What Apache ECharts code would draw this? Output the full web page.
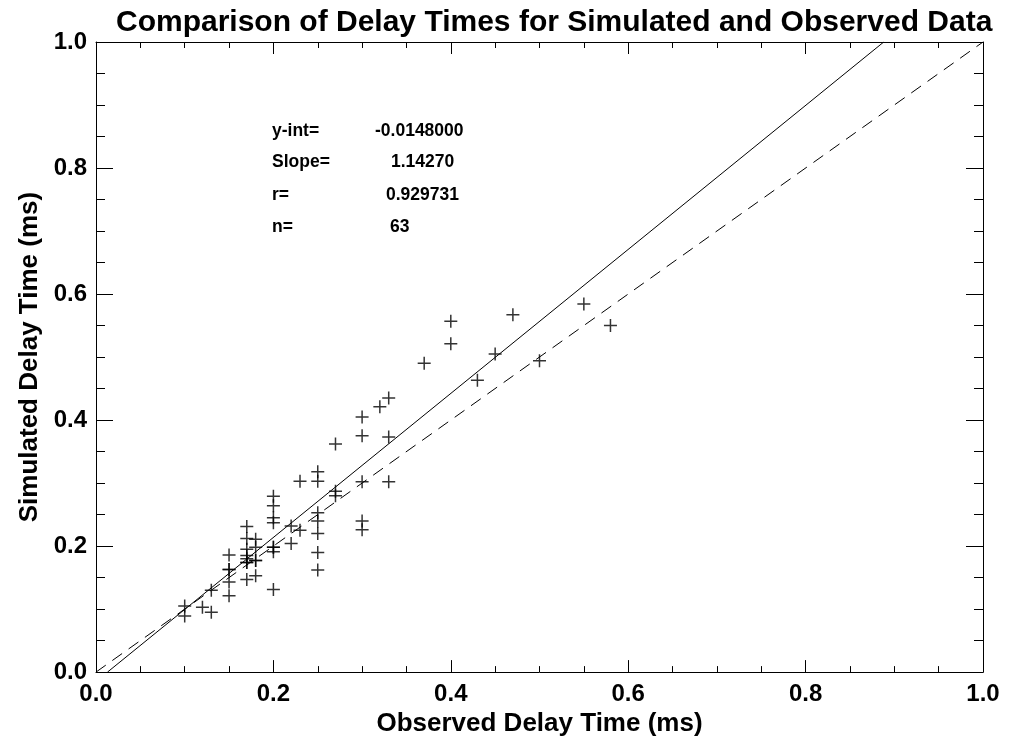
<!DOCTYPE html>
<html>
<head>
<meta charset="utf-8">
<script src="https://cdn.jsdelivr.net/npm/echarts/dist/echarts.min.js"></script>
<style>
html,body{margin:0;padding:0;background:#fff;}
#c{width:1010px;height:742px;}
</style>
</head>
<body>
<div id="c"></div>
<script>
// Observed (x) and simulated (y) delay times, ms
var obsX = [
  0.10,0.10,
  0.12,
  0.13,0.13,
  0.15,0.15,0.15,0.15,0.15,
  0.17,0.17,0.17,0.17,0.17,0.17,0.17,0.17,
  0.18,0.18,0.18,0.18,0.18,
  0.20,0.20,0.20,0.20,0.20,0.20,0.20,0.20,
  0.22,0.22,
  0.23,0.23,
  0.25,0.25,0.25,0.25,0.25,0.25,0.25,
  0.27,0.27,0.27,
  0.30,0.30,0.30,0.30,0.30,
  0.32,
  0.33,0.33,0.33,
  0.37,
  0.40,0.40,
  0.43,
  0.45,
  0.47,
  0.50,
  0.55,
  0.58
];
var simY = [
  0.105,0.089,
  0.103,
  0.130,0.095,
  0.186,0.163,0.163,0.143,0.121,
  0.231,0.212,0.195,0.185,0.180,0.174,0.174,0.147,
  0.211,0.198,0.177,0.177,0.153,
  0.279,0.264,0.245,0.237,0.198,0.198,0.191,0.131,
  0.232,0.204,
  0.303,0.225,
  0.318,0.303,0.253,0.240,0.220,0.190,0.162,
  0.362,0.287,0.280,
  0.405,0.375,0.302,0.240,0.226,
  0.421,
  0.435,0.373,0.302,
  0.490,
  0.557,0.521,
  0.463,
  0.505,
  0.567,
  0.494,
  0.584,
  0.550
];
// Fit statistics shown on the chart
var fitIntercept = -0.0148;
var fitSlope = 1.1427;
var statLabels = ['y-int=', 'Slope=', 'r=', 'n='];
var statValues = ['-0.0148000', '1.14270', '0.929731', '63'];
var axisMin = 0, axisMax = 1, axisStep = 0.2;

var points = obsX.map(function (x, i) { return [x, simY[i]]; });
var fitLine = [
  [(axisMin - fitIntercept) / fitSlope, axisMin],
  [(axisMax - fitIntercept) / fitSlope, axisMax]
];
var oneToOne = [[axisMin, axisMin], [axisMax, axisMax]];

var FONT = '"Liberation Sans", Arial, Helvetica, sans-serif';

function mkX(pos, showLabel) {
  return {
    type: 'value', position: pos, min: axisMin, max: axisMax, interval: axisStep,
    axisLine: { show: true, onZero: false, lineStyle: { color: '#000', width: 1 } },
    axisTick: { show: true, inside: true, length: 12, lineStyle: { color: '#000', width: 1 } },
    minorTick: { show: true, splitNumber: 4, length: 6, lineStyle: { color: '#000', width: 1 } },
    splitLine: { show: false }, minorSplitLine: { show: false },
    axisLabel: { show: showLabel, color: '#000', fontFamily: FONT, fontWeight: 'bold', fontSize: 24, margin: 10,
      formatter: function (v) { return v.toFixed(1); } },
    name: showLabel ? 'Observed Delay Time (ms)' : '',
    nameLocation: 'middle', nameGap: 32,
    nameTextStyle: { color: '#000', fontFamily: FONT, fontWeight: 'bold', fontSize: 26 }
  };
}
function mkY(pos, showLabel) {
  return {
    type: 'value', position: pos, min: axisMin, max: axisMax, interval: axisStep,
    axisLine: { show: true, onZero: false, lineStyle: { color: '#000', width: 1 } },
    axisTick: { show: true, inside: true, length: 17, lineStyle: { color: '#000', width: 1 } },
    minorTick: { show: true, splitNumber: 4, length: 9, lineStyle: { color: '#000', width: 1 } },
    splitLine: { show: false }, minorSplitLine: { show: false },
    axisLabel: { show: showLabel, color: '#000', fontFamily: FONT, fontWeight: 'bold', fontSize: 24, margin: 9,
      formatter: function (v) { return v.toFixed(1); } },
    name: showLabel ? 'Simulated Delay Time (ms)' : '',
    nameLocation: 'middle', nameGap: 53, nameRotate: 90,
    nameTextStyle: { color: '#000', fontFamily: FONT, fontWeight: 'bold', fontSize: 26 }
  };
}

var graphics = [];
var labelTops = [131, 162, 195, 227];
var valueLefts = [375, 391, 386, 390];
statLabels.forEach(function (s, i) {
  graphics.push({ type: 'text', left: 272, top: labelTops[i] - 9,
    style: { text: s, fill: '#000', font: 'bold 17.5px ' + FONT } });
  graphics.push({ type: 'text', left: valueLefts[i], top: labelTops[i] - 9,
    style: { text: statValues[i], fill: '#000', font: 'bold 17.5px ' + FONT } });
});

var chart = echarts.init(document.getElementById('c'), null, { renderer: 'canvas' });
chart.setOption({
  animation: false,
  backgroundColor: '#fff',
  title: {
    text: 'Comparison of Delay Times for Simulated and Observed Data',
    left: 111, top: 3,
    textStyle: { color: '#000', fontFamily: FONT, fontWeight: 'bold', fontSize: 30 }
  },
  grid: { left: 96, right: 27, top: 42, bottom: 69, containLabel: false },
  xAxis: [mkX('bottom', true), mkX('top', false)],
  yAxis: [mkY('left', true), mkY('right', false)],
  graphic: graphics,
  series: [
    {
      type: 'scatter', data: points,
      symbol: 'path://M0,6L12,6M6,0L6,12', symbolSize: 13,
      itemStyle: { color: 'none', borderColor: '#000', borderWidth: 1.5 }
    },
    {
      type: 'line', data: fitLine, symbol: 'none',
      lineStyle: { color: '#000', width: 1, type: 'solid' }
    },
    {
      type: 'line', data: oneToOne, symbol: 'none',
      lineStyle: { color: '#000', width: 1, type: [12, 8] }
    }
  ]
});
</script>
</body>
</html>
